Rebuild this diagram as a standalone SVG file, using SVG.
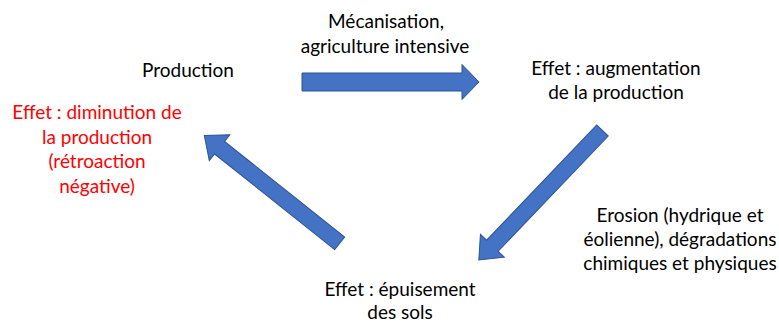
<svg xmlns="http://www.w3.org/2000/svg" width="779" height="322" viewBox="0 0 779 322">
<style>
text{font-family:"Lato","Open Sans","Liberation Sans",sans-serif;font-size:19px;fill:#000;text-anchor:middle}
.red{fill:#FF0000}
.arr{fill:#4472C4;stroke:#2F528F;stroke-width:1}
</style>
<rect width="779" height="322" fill="#fff"/>
<g id="connectors">
<path class="arr" d="M0,-9 L160,-9 L160,-17.5 L177,0 L160,17.5 L160,9 L0,9 Z" transform="translate(302,82)"/>
<path class="arr" d="M0,-8 L159.4,-8 L159.4,-16.5 L179,0 L159.4,16.5 L159.4,8 L0,8 Z" transform="translate(602.5,130.5) rotate(133.7)"/>
<path class="arr" d="M0,-8 L153.5,-8 L153.5,-16.5 L173,0 L153.5,16.5 L153.5,8 L0,8 Z" transform="translate(339.7,243.3) rotate(-141.5)"/>
</g>
<g id="label-mecanisation">
<text x="386" y="28">Mécanisation,</text>
<text x="385" y="53">agriculture intensive</text>
</g>
<g id="label-erosion">
<text x="680" y="222">Erosion (hydrique et</text>
<text x="680" y="246">éolienne), dégradations</text>
<text x="680" y="270">chimiques et physiques</text>
</g>
<g id="node-production">
<text x="188" y="77">Production</text>
</g>
<g id="node-augmentation">
<text x="616" y="75">Effet : augmentation</text>
<text x="616" y="99">de la production</text>
</g>
<g id="node-epuisement">
<text x="400" y="296">Effet : épuisement</text>
<text x="400" y="319">des sols</text>
</g>
<g id="node-diminution">
<text class="red" x="97" y="119">Effet : diminution de</text>
<text class="red" x="97" y="143.5">la production</text>
<text class="red" x="97" y="168">(rétroaction</text>
<text class="red" x="97" y="192.5">négative)</text>
</g>
</svg>
